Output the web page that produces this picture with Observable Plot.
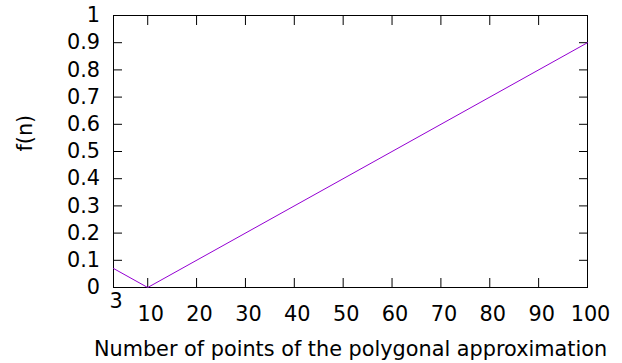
<!DOCTYPE html>
<html>
<head>
<meta charset="utf-8">
<script src="https://cdn.jsdelivr.net/npm/d3@7"></script>
<script src="https://cdn.jsdelivr.net/npm/@observablehq/plot@0.6"></script>
<style>
  html, body { margin: 0; padding: 0; background: #fff; }
</style>
</head>
<body>
<div id="chart"></div>
<script>
// f(n) sampled at the number of polygon points n
const pointsN = [3, 10, 100];
const fValues = [0.07, 0, 0.9];

// Tick positions and labels
const xTicks = [3, 10, 20, 30, 40, 50, 60, 70, 80, 90, 100];
const xTickLabels = ["3", "10", "20", "30", "40", "50", "60", "70", "80", "90", "100"];
const yTicks = [0, 0.1, 0.2, 0.3, 0.4, 0.5, 0.6, 0.7, 0.8, 0.9, 1];
const xTitle = "Number of points of the polygonal approximation";
const yTitle = "f(n)";

const series = pointsN.map((n, i) => ({n, f: fValues[i]}));
const xLabels = xTicks.map((n, i) => ({n, label: xTickLabels[i]}));

const chart = Plot.plot({
  width: 622,
  height: 363,
  marginLeft: 113,
  marginRight: 35,
  marginTop: 15,
  marginBottom: 76,
  style: {fontFamily: "DejaVu Sans", fontSize: "20.8px", color: "#000", background: "#fff", overflow: "visible"},
  x: {domain: [3, 100]},
  y: {domain: [0, 1]},
  marks: [
    Plot.frame({stroke: "#000", strokeWidth: 1}),
    // inward ticks, labelled on the left, mirrored on the right, top and bottom
    Plot.axisY({ticks: yTicks, tickSize: -9, tickPadding: 22.5, tickFormat: d => String(d), label: null, stroke: "#000"}),
    Plot.axisY({ticks: yTicks, anchor: "right", tickSize: -9, tickFormat: () => "", label: null, stroke: "#000"}),
    Plot.axisX({ticks: xTicks, tickSize: -9, tickFormat: () => "", label: null, stroke: "#000"}),
    Plot.axisX({ticks: xTicks, anchor: "top", tickSize: -9, tickFormat: () => "", label: null, stroke: "#000"}),
    // x tick labels: the first one sits higher so it clears the "10"
    Plot.text(xLabels.slice(1), {x: "n", text: "label", frameAnchor: "bottom", lineAnchor: "top", dy: 19, dx: 3, fill: "#000"}),
    Plot.text(xLabels.slice(0, 1), {x: "n", text: "label", frameAnchor: "bottom", lineAnchor: "top", dy: 6, dx: 2.5, fill: "#000"}),
    Plot.line(series, {x: "n", y: "f", stroke: "#9400d3", strokeWidth: 1}),
    Plot.text([xTitle], {text: d => d, frameAnchor: "bottom", dy: 62, lineAnchor: "middle", fill: "#000"}),
    Plot.text([yTitle], {text: d => d, frameAnchor: "left", dx: -88, rotate: -90, fill: "#000"})
  ]
});

document.getElementById("chart").appendChild(chart);
</script>
</body>
</html>
